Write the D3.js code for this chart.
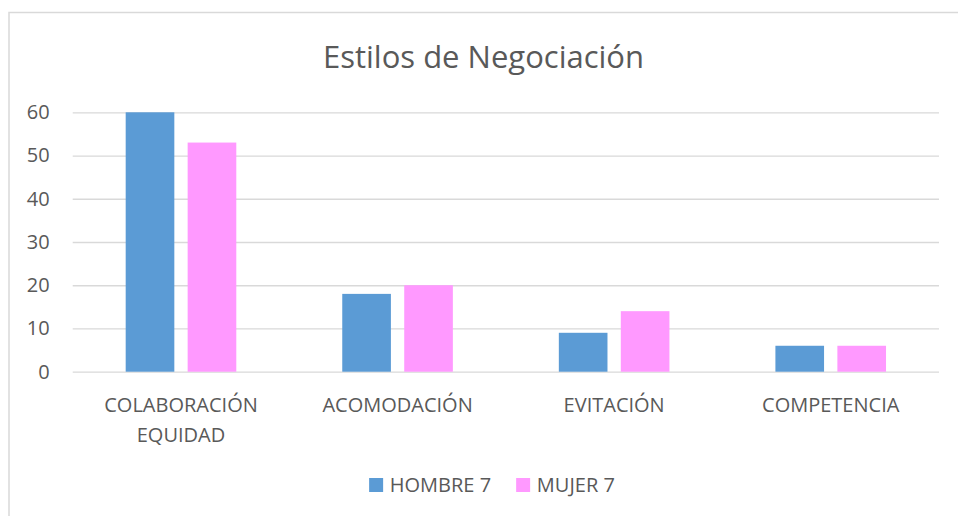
<!DOCTYPE html>
<html>
<head>
<meta charset="utf-8">
<script src="https://cdn.jsdelivr.net/npm/d3@7"></script>
<style>
  body { margin: 0; background: #fff; }
  svg { display: block; }
</style>
</head>
<body>
<div id="chart"></div>
<script>
var categories = ["COLABORACIÓN EQUIDAD", "ACOMODACIÓN", "EVITACIÓN", "COMPETENCIA"];
var seriesNames = ["HOMBRE 7", "MUJER 7"];
var hombre = [60, 18, 9, 6];
var mujer = [53, 20, 14, 6];
var yTicks = [0, 10, 20, 30, 40, 50, 60];
var colors = ["#5B9BD5", "#FF99FF"];

var w = 958;
var h = 516;
var plotLeft = 72.7, plotRight = 939, plotTop = 112.3, plotBottom = 371.7;
var textColor = '#595959';
var font = '"Open Sans", sans-serif';

var svg = d3.select('#chart')
  .append('svg')
  .attr('width', w)
  .attr('height', h);

svg.append('rect')
  .attr('x', 0).attr('y', 0).attr('width', w).attr('height', h)
  .attr('fill', '#fff');

// outer chart border (runs off the right and bottom edge)
svg.append('rect')
  .attr('x', 9).attr('y', 12.5)
  .attr('width', 1000).attr('height', 600)
  .attr('fill', 'none')
  .attr('stroke', '#d9d9d9')
  .attr('stroke-width', 1.5);

var x = d3.scaleBand()
  .domain(categories)
  .range([plotLeft, plotRight]);

var xs = d3.scaleBand()
  .domain(seriesNames)
  .range([0, x.bandwidth()])
  .paddingInner(0.215)
  .paddingOuter(0.855);

var y = d3.scaleLinear()
  .domain([0, 60])
  .range([plotBottom, plotTop]);

// title
svg.append('text')
  .text('Estilos de Negociación')
  .attr('x', 483.5)
  .attr('y', 68)
  .attr('text-anchor', 'middle')
  .attr('font-family', font)
  .attr('font-size', '31px')
  .attr('fill', textColor);

// y axis with gridlines
var yAxis = svg.append('g')
  .attr('transform', 'translate(' + plotLeft + ',0)')
  .call(d3.axisLeft(y).tickValues(yTicks).tickSize(-(plotRight - plotLeft)).tickPadding(23));

yAxis.select('.domain').remove();
yAxis.selectAll('line').attr('stroke', '#d9d9d9').attr('stroke-width', 1.3);
yAxis.selectAll('text')
  .attr('font-family', font)
  .attr('font-size', '20px')
  .attr('fill', textColor);

// bars
var rows = categories.map(function (c, i) {
  return { cat: c, values: [hombre[i], mujer[i]] };
});

var groups = svg.selectAll('g.group')
  .data(rows)
  .enter()
  .append('g')
  .attr('class', 'group')
  .attr('transform', function (d) { return 'translate(' + x(d.cat) + ',0)'; });

groups.selectAll('rect')
  .data(function (d) {
    return d.values.map(function (v, j) { return { name: seriesNames[j], value: v, i: j }; });
  })
  .enter()
  .append('rect')
  .attr('x', function (d) { return xs(d.name); })
  .attr('y', function (d) { return y(d.value); })
  .attr('width', xs.bandwidth())
  .attr('height', function (d) { return y(0) - y(d.value); })
  .attr('fill', function (d) { return colors[d.i]; });

// x axis labels
var xAxis = svg.append('g')
  .attr('transform', 'translate(0,' + plotBottom + ')')
  .call(d3.axisBottom(x).tickSize(0).tickPadding(0));

xAxis.select('.domain').remove();
xAxis.selectAll('text')
  .attr('font-family', font)
  .attr('font-size', '20px')
  .attr('fill', textColor)
  .attr('dy', null)
  .attr('y', 0)
  .each(function (d) {
    var t = d3.select(this);
    var words = d.split(' ');
    t.text(null);
    words.forEach(function (word, k) {
      t.append('tspan')
        .attr('x', 0)
        .attr('y', 40.5 + k * 29.5)
        .text(word);
    });
  });

// legend
var legend = svg.append('g');
var lx = 0;
seriesNames.forEach(function (name, i) {
  var item = legend.append('g').attr('transform', 'translate(' + lx + ',0)');
  item.append('rect')
    .attr('x', 0).attr('y', 478)
    .attr('width', 14).attr('height', 14)
    .attr('fill', colors[i]);
  var t = item.append('text')
    .text(name)
    .attr('x', 20.7)
    .attr('y', 491.7)
    .attr('font-family', font)
    .attr('font-size', '20px')
    .attr('fill', textColor);
  lx += 20.7 + t.node().getComputedTextLength() + 25;
});
var lw = lx - 25;
legend.attr('transform', 'translate(' + (492 - lw / 2) + ',0)');
</script>
</body>
</html>
